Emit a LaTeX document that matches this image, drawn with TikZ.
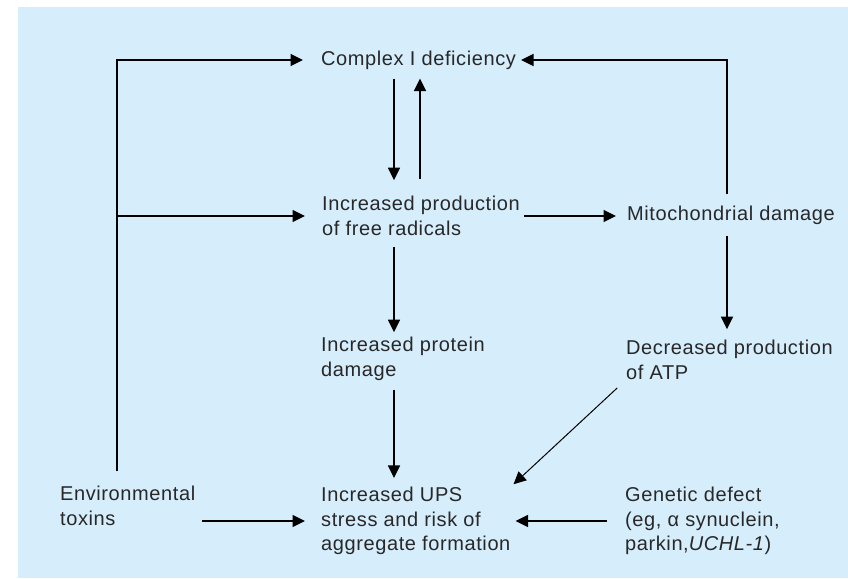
\documentclass[tikz,border=0pt]{standalone}
\usepackage{fontspec}
\setmainfont[LetterSpace=3]{Liberation Sans}
\usepackage{tikz}
\usetikzlibrary{arrows.meta}
\definecolor{panel}{RGB}{214,237,252}
\definecolor{ink}{RGB}{40,40,40}
\tikzset{
    every node/.style={anchor=west, align=left, inner sep=0pt, text=ink,
    	font=\fontsize{20}{24.5}\selectfont}
}
\tikzset{
    arr/.style={-{Triangle[length=12.5pt,width=12pt]}, line width=1.7pt}
}
\tikzset{
    thin arr/.style={-{Triangle[length=12.5pt,width=12pt]}, line width=1pt}
}

\begin{document}
\begin{tikzpicture}[x=1pt,y=-1pt]
	\useasboundingbox (0,0) rectangle (848,578);
	\fill[panel] (18,7) rectangle (848,578);

	\node (cid) at (321,60) {Complex I deficiency};
	\node (rad) at (322,216) {Increased production\\of free radicals};
	\node (mito) at (627,215) {Mitochondrial damage};
	\node (prot) at (321,359) {Increased protein\\damage};
	\node (atp) at (626,360) {Decreased production\\of ATP};
	\node (env) at (60,506) {Environmental\\toxins};
	\node (ups) at (321,521) {Increased UPS\\stress and risk of\\aggregate formation};
	\node (gen) at (625,521) {Genetic defect\\(eg, α synuclein,\\parkin,\textit{UCHL-1})};

	\coordinate (lb) at (117,471);
	\coordinate (c1) at (394,0);
	\coordinate (c2) at (420,0);
	\coordinate (c3) at (727,0);

	\draw[arr, shorten >=18pt] (lb) |- (cid.west);
	\draw[arr, shorten >=17pt] (lb |- rad.west) -- (rad.west);
	\draw[arr, shorten <=9pt, shorten >=16pt] (cid.south -| c1) -- (rad.north -| c1);
	\draw[arr, shorten <=17pt, shorten >=9pt] (rad.north -| c2) -- (cid.south -| c2);
	\draw[arr, shorten <=4pt, shorten >=11pt] (rad.east) -- (rad.east -| mito.west);
	\draw[arr, shorten <=11pt, shorten >=5pt] (mito.north -| c3) |- (cid.east);
	\draw[arr, shorten <=11pt, shorten >=5pt] (rad.south -| c1) -- (prot.north -| c1);
	\draw[arr, shorten <=11pt, shorten >=11pt] (mito.south -| c3) -- (atp.north -| c3);
	\draw[arr, shorten <=9pt, shorten >=9pt] (prot.south -| c1) -- (ups.north -| c1);
	\draw[thin arr, shorten <=12pt, shorten >=4pt] (atp.south west) -- (ups.north east);
	\draw[arr, shorten <=7pt, shorten >=16pt] (env.east |- ups.west) -- (ups.west);
	\draw[arr, shorten <=18pt, shorten >=5pt] (gen.west) -- (gen.west -| ups.east);
\end{tikzpicture}
\end{document}
